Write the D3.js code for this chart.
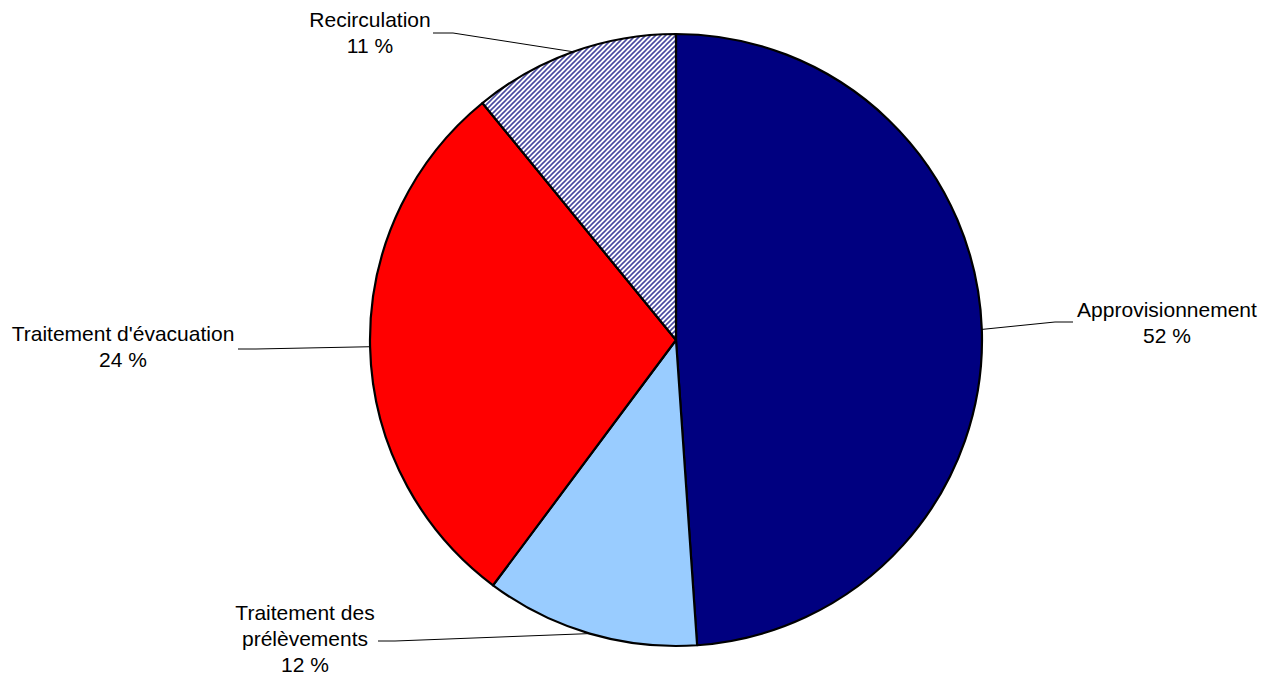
<!DOCTYPE html>
<html>
<head>
<meta charset="utf-8">
<script src="https://cdn.jsdelivr.net/npm/d3@7"></script>
<style>
  html, body { margin: 0; padding: 0; background: #fff; }
  svg { display: block; }
  text { font-family: "Liberation Sans", Arial, Helvetica, sans-serif; font-size: 21px; fill: #000; }
</style>
</head>
<body>
<svg id="chart" width="1268" height="675"></svg>
<script>
// Data (slice shares as drawn, in clockwise order from 12 o'clock)
const categories = ["Approvisionnement", "Traitement des prélèvements", "Traitement d'évacuation", "Recirculation"];
const shares = [48.9, 11.3, 28.9, 10.9];
const percentLabels = ["52 %", "12 %", "24 %", "11 %"];
const labelLines = [["Approvisionnement"], ["Traitement des", "prélèvements"], ["Traitement d'évacuation"], ["Recirculation"]];
const fills = ["#000080", "#99CCFF", "#FF0000", "url(#hatch)"];

// Layout
const W = 1268, H = 675;
const cx = 676, cy = 340, R = 306;
// label block centre x, first baseline y, leader elbow and end
const labelLayout = [
  { x: 1167, y: 317, elbowX: 1055, endX: 1073, elbowY: 322 },
  { x: 305,  y: 620, elbowX: 395,  endX: 378,  elbowY: 641 },
  { x: 123,  y: 341, elbowX: 256,  endX: 238,  elbowY: 349 },
  { x: 370,  y: 27,  elbowX: 453,  endX: 433,  elbowY: 33 }
];
const lineH = 26;

const svg = d3.select("#chart");
const defs = svg.append("defs");
const pat = defs.append("pattern")
  .attr("id", "hatch").attr("patternUnits", "userSpaceOnUse")
  .attr("width", 5).attr("height", 5);
pat.append("rect").attr("width", 5).attr("height", 5).attr("fill", "#fff");
pat.append("path").attr("d", "M-1,1 l2,-2 M0,5 l5,-5 M4,6 l2,-2")
  .attr("stroke", "#2a2a90").attr("stroke-width", 1.6).attr("stroke-opacity", 0.85);

const pie = d3.pie().sort(null).value(d => d);
const arcs = pie(shares);
const arc = d3.arc().innerRadius(0).outerRadius(R);

const g = svg.append("g").attr("transform", `translate(${cx},${cy})`);
g.selectAll("path.slice").data(arcs).join("path")
  .attr("class", "slice")
  .attr("d", arc)
  .attr("fill", (d, i) => fills[i])
  .attr("stroke", "#000")
  .attr("stroke-width", 2.2)
  .attr("stroke-linejoin", "round");

// Leader lines
arcs.forEach((a, i) => {
  const mid = (a.startAngle + a.endAngle) / 2;
  const px = cx + R * Math.sin(mid), py = cy - R * Math.cos(mid);
  const L = labelLayout[i];
  svg.append("polyline")
    .attr("points", `${px},${py} ${L.elbowX},${L.elbowY} ${L.endX},${L.elbowY}`)
    .attr("fill", "none").attr("stroke", "#000").attr("stroke-width", 1);
});

// Labels
labelLayout.forEach((L, i) => {
  const lines = labelLines[i].concat([percentLabels[i]]);
  const t = svg.append("text").attr("text-anchor", "middle");
  lines.forEach((s, j) => {
    t.append("tspan").attr("x", L.x).attr("y", L.y + j * lineH).text(s);
  });
});
</script>
</body>
</html>
